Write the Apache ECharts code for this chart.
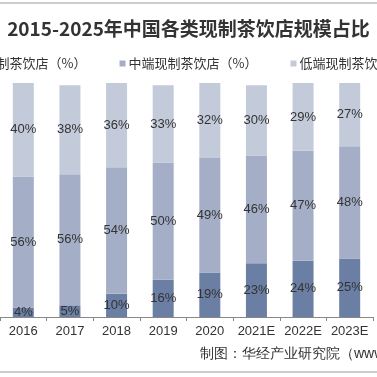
<!DOCTYPE html>
<html lang="zh">
<head>
    <meta charset="UTF-8">
    <title>现制茶饮店规模占比</title>
    <script src="https://cdn.jsdelivr.net/npm/echarts@6/dist/echarts.min.js"></script>
    <style>
        html, body { margin: 0; padding: 0; background: #fff; }
        #main { width: 377px; height: 377px; }
    </style>
</head>
<body>
<div id="main"></div>
<script>
    // 年份（左右两端在原图中被裁掉）
    let years = ['2016', '2017', '2018', '2019', '2020', '2021E', '2022E', '2023E'];
    let highEnd = [4, 5, 10, 16, 19, 23, 24, 25];
    let midEnd = [56, 56, 54, 50, 49, 46, 47, 48];
    let lowEnd = [40, 38, 36, 33, 32, 30, 29, 27];
    let seriesNames = ['高端现制茶饮店（%）', '中端现制茶饮店（%）', '低端现制茶饮店（%）'];
    let colors = ['#6b7fa4', '#a4afc7', '#c3cada'];

    let font = '"Noto Sans CJK SC", "Liberation Sans", sans-serif';

    function makeSeries(name, data, color) {
        return {
            name: name,
            type: 'bar',
            stack: 'total',
            barWidth: 21,
            data: data,
            itemStyle: {color: color},
            label: {
                show: true,
                position: 'inside',
                formatter: '{c}%',
                color: '#333',
                fontSize: 13,
                fontFamily: '"Liberation Sans", Arial, sans-serif'
            }
        };
    }

    let chart = echarts.init(document.getElementById('main'));
    chart.setOption({
        animation: false,
        title: {
            text: '2015-2025年中国各类现制茶饮店规模占比',
            left: 'center',
            top: 14,
            textStyle: {fontSize: 19, fontWeight: 'bold', color: '#333', fontFamily: font}
        },
        legend: {
            data: seriesNames,
            left: 'center',
            top: 52,
            width: 700,
            icon: 'rect',
            itemWidth: 6,
            itemHeight: 6,
            itemGap: 33,
            textStyle: {fontSize: 13, color: '#333', fontFamily: font, padding: [0, 0, 0, -2]}
        },
        grid: {left: 0, right: 4, top: 83, bottom: 60},
        xAxis: {
            type: 'category',
            data: years,
            axisLine: {lineStyle: {color: '#888'}},
            axisTick: {show: true, length: 4, interval: 0, lineStyle: {color: '#888'}},
            axisLabel: {color: '#333', fontSize: 13, margin: 8, interval: 0, fontFamily: '"Liberation Sans", Arial, sans-serif'}
        },
        yAxis: {type: 'value', min: 0, max: 100, show: false, splitLine: {show: false}},
        series: [
            makeSeries(seriesNames[0], highEnd, colors[0]),
            makeSeries(seriesNames[1], midEnd, colors[1]),
            makeSeries(seriesNames[2], lowEnd, colors[2])
        ],
        graphic: [
            {type: 'line', shape: {x1: 0, y1: 3, x2: 377, y2: 3}, style: {stroke: '#999', lineWidth: 1}},
            {type: 'line', shape: {x1: 0, y1: 372, x2: 377, y2: 372}, style: {stroke: '#999', lineWidth: 1}},
            {
                type: 'text', left: 200, top: 347,
                style: {text: '制图：华经产业研究院（www.huaon.com）', fontSize: 14, fill: '#333', font: '14px ' + font}
            }
        ]
    });
</script>
</body>
</html>
